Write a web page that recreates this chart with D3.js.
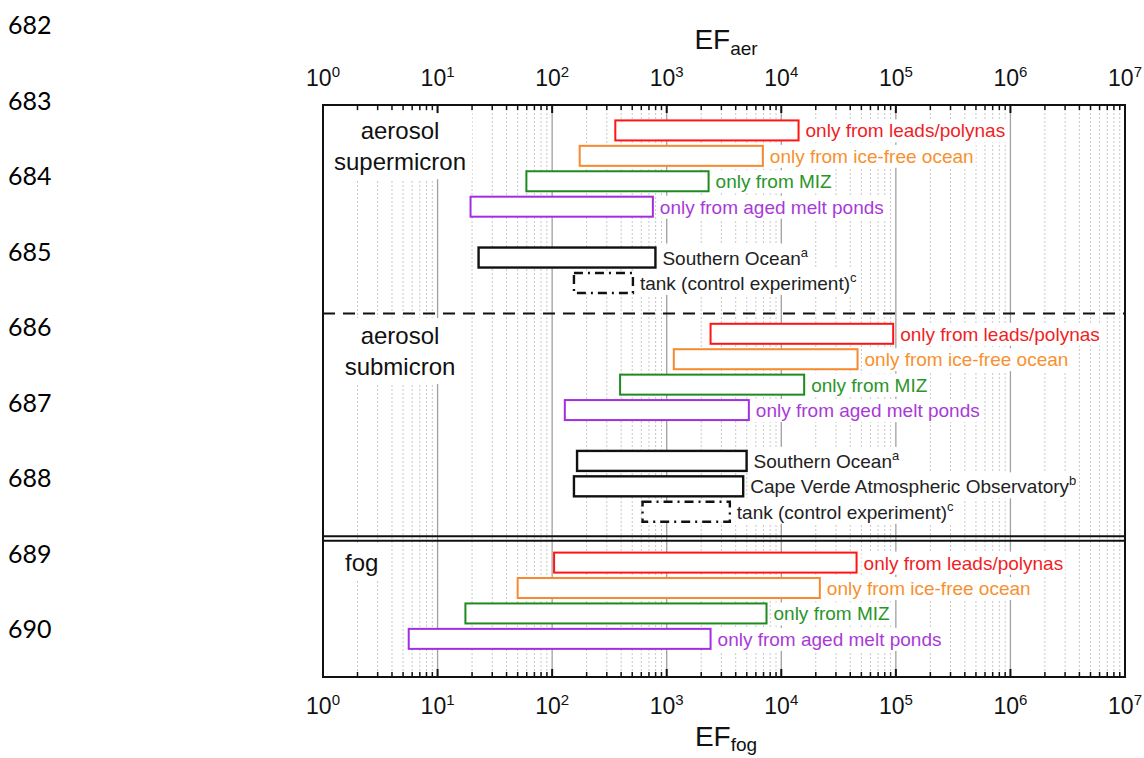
<!DOCTYPE html>
<html>
<head>
<meta charset="utf-8">
<script src="https://cdn.jsdelivr.net/npm/d3@7"></script>
<style>
  body { margin: 0; background: #fff; }
  svg { display: block; font-family: "Liberation Sans", Arial, sans-serif; }
</style>
</head>
<body>
<div id="chart"></div>
<script>
// ---- data ----
const lineNumbers = ["682", "683", "684", "685", "686", "687", "688", "689", "690"];

const rowIndex = [0, 1, 2, 3, 5, 6, 8, 9, 10, 11, 13, 14, 15, 17, 18, 19, 20];
const kinds = ["leads", "icefree", "miz", "melt", "so", "tank",
               "leads", "icefree", "miz", "melt", "so", "cv", "tank",
               "leads", "icefree", "miz", "melt"];
const lows  = [356, 174, 59.6, 19.4, 22.8, 155,
               2414, 1153, 392, 129, 165, 155, 615,
               104, 50, 17.5, 5.6];
const highs = [14150, 6900, 2320, 757, 797, 507,
               94800, 46300, 15840, 5210, 4980, 4650, 3557,
               45400, 21700, 7430, 2414];

const kindLabels = {
  leads: ["only from leads/polynas", ""],
  icefree: ["only from ice-free ocean", ""],
  miz: ["only from MIZ", ""],
  melt: ["only from aged melt ponds", ""],
  so: ["Southern Ocean", "a"],
  cv: ["Cape Verde Atmospheric Observatory", "b"],
  tank: ["tank (control experiment)", "c"]
};
const kindColors = {
  leads: "#ff1414", icefree: "#f7892e", miz: "#1f8a1f", melt: "#a22ee0",
  so: "#111", cv: "#111", tank: "#111"
};
const textColors = {
  leads: "#f01e26", icefree: "#f7912f", miz: "#2a952a", melt: "#a93ad8",
  so: "#222", cv: "#222", tank: "#222"
};

const groupNames = [["aerosol", "supermicron"], ["aerosol", "submicron"], ["fog"]];
const groupRows = [0.03, 8.09, 17.0];

const tickExponents = [0, 1, 2, 3, 4, 5, 6, 7];

// ---- layout ----
const W = 1144, H = 758;
const x0 = 323, x1 = 1125, yTop = 105, yBot = 677;

const svg = d3.select("#chart").append("svg")
  .attr("width", W).attr("height", H);

const x = d3.scaleLog().domain([1, 1e7]).range([x0, x1]);
const y = d3.scaleLinear().domain([-1, 21.5]).range([yTop, yBot]);

// page line numbers
svg.append("g").selectAll("text")
  .data(lineNumbers)
  .join("text")
  .attr("x", 8)
  .attr("y", (d, i) => 34 + i * 75.5)
  .style("font-family", "Lato, 'Open Sans', sans-serif")
  .style("font-size", "25px")
  .attr("fill", "#000")
  .text(d => d);

// grid
const minorVals = [];
for (let e = 0; e < 7; e++) {
  for (let m = 2; m <= 9; m++) minorVals.push(m * Math.pow(10, e));
}
const majorVals = tickExponents.slice(1, -1).map(e => Math.pow(10, e));

const grid = svg.append("g");
grid.selectAll(".minor")
  .data(minorVals)
  .join("line")
  .attr("x1", d => x(d)).attr("x2", d => x(d))
  .attr("y1", yTop).attr("y2", yBot)
  .attr("stroke", "#c8c8c8")
  .attr("stroke-width", 1)
  .attr("stroke-dasharray", "2,2");
grid.selectAll(".major")
  .data(majorVals)
  .join("line")
  .attr("x1", d => x(d)).attr("x2", d => x(d))
  .attr("y1", yTop).attr("y2", yBot)
  .attr("stroke", "#a0a0a0")
  .attr("stroke-width", 1.3);

// white boxes behind texts (filled in after texts are drawn)
const bgLayer = svg.append("g");

// group labels
const groupG = svg.append("g");
groupNames.forEach((lines, gi) => {
  const gx = gi === 2 ? 345 : 400;
  const t = groupG.append("text")
    .attr("x", gx)
    .attr("text-anchor", gi === 2 ? "start" : "middle")
    .style("font-size", "24px")
    .attr("fill", "#111");
  lines.forEach((ln, li) => {
    t.append("tspan")
      .attr("x", gx)
      .attr("y", y(groupRows[gi]) + 8 + li * 31)
      .text(ln);
  });
});

// separators
svg.append("line")
  .attr("x1", x0).attr("x2", x1)
  .attr("y1", y(7.2)).attr("y2", y(7.2))
  .attr("stroke", "#111").attr("stroke-width", 2)
  .attr("stroke-dasharray", "12,8");
[-2.3, 2.3].forEach(off => {
  svg.append("line")
    .attr("x1", x0).attr("x2", x1)
    .attr("y1", y(16.05) + off).attr("y2", y(16.05) + off)
    .attr("stroke", "#111").attr("stroke-width", 2);
});

// bars
const rows = rowIndex.map((r, i) => ({ row: r, kind: kinds[i], lo: lows[i], hi: highs[i] }));
const barH = 20;

svg.append("g").selectAll("rect")
  .data(rows)
  .join("rect")
  .attr("x", d => x(d.lo))
  .attr("y", d => y(d.row) - barH / 2)
  .attr("width", d => x(d.hi) - x(d.lo))
  .attr("height", barH)
  .attr("fill", "#fff")
  .attr("stroke", d => kindColors[d.kind])
  .attr("stroke-width", d => (d.kind === "so" || d.kind === "cv" || d.kind === "tank") ? 2.4 : 2)
  .attr("stroke-dasharray", d => d.kind === "tank" ? "9,5,2,5" : null);

// bar labels
const labelG = svg.append("g");
rows.forEach(d => {
  const [main, sup] = kindLabels[d.kind];
  const t = labelG.append("text")
    .attr("x", x(d.hi) + 7)
    .attr("y", y(d.row) + 7)
    .style("font-size", "19px")
    .attr("fill", textColors[d.kind])
    .text(main);
  if (sup) {
    t.append("tspan")
      .attr("dy", -8)
      .style("font-size", "13px")
      .text(sup);
  }
});

// white backgrounds for texts
groupG.selectAll("text").each(function () {
  const b = this.getBBox();
  bgLayer.append("rect")
    .attr("x", b.x - 6).attr("y", b.y - 4)
    .attr("width", b.width + 12).attr("height", b.height + 8)
    .attr("fill", "#fff");
});
labelG.selectAll("text").each(function () {
  const b = this.getBBox();
  bgLayer.append("rect")
    .attr("x", b.x - 2).attr("y", b.y - 1)
    .attr("width", b.width + 4).attr("height", b.height + 2)
    .attr("fill", "#fff");
});

// frame
svg.append("rect")
  .attr("x", x0).attr("y", yTop)
  .attr("width", x1 - x0).attr("height", yBot - yTop)
  .attr("fill", "none")
  .attr("stroke", "#111")
  .attr("stroke-width", 2);

// ticks (inward, top and bottom)
const allMajor = tickExponents.map(e => Math.pow(10, e));
const tickG = svg.append("g").attr("stroke", "#111");
[[yTop, 1], [yBot, -1]].forEach(([yy, dir]) => {
  tickG.selectAll(null)
    .data(allMajor)
    .join("line")
    .attr("x1", d => x(d)).attr("x2", d => x(d))
    .attr("y1", yy).attr("y2", yy + dir * 8)
    .attr("stroke-width", 2);
  tickG.selectAll(null)
    .data(minorVals)
    .join("line")
    .attr("x1", d => x(d)).attr("x2", d => x(d))
    .attr("y1", yy).attr("y2", yy + dir * 5)
    .attr("stroke-width", 1.5);
});

// tick labels
[86, 714].forEach(by => {
  svg.append("g").selectAll("text")
    .data(tickExponents)
    .join("text")
    .attr("x", d => x(Math.pow(10, d)))
    .attr("y", by)
    .attr("text-anchor", "middle")
    .style("font-size", "23px")
    .attr("fill", "#111")
    .each(function (d) {
      const t = d3.select(this);
      t.append("tspan").text("10");
      t.append("tspan").attr("dy", -9).style("font-size", "15px").text(d);
    });
});

// axis titles
[["aer", 49, 6], ["fog", 746, 5]].forEach(([sub, by, sd]) => {
  const t = svg.append("text")
    .attr("x", (x0 + x1) / 2 + 2)
    .attr("y", by)
    .attr("text-anchor", "middle")
    .style("font-size", "28px")
    .attr("fill", "#111");
  t.append("tspan").text("EF");
  t.append("tspan").attr("dy", sd).style("font-size", "19px").text(sub);
});
</script>
</body>
</html>
